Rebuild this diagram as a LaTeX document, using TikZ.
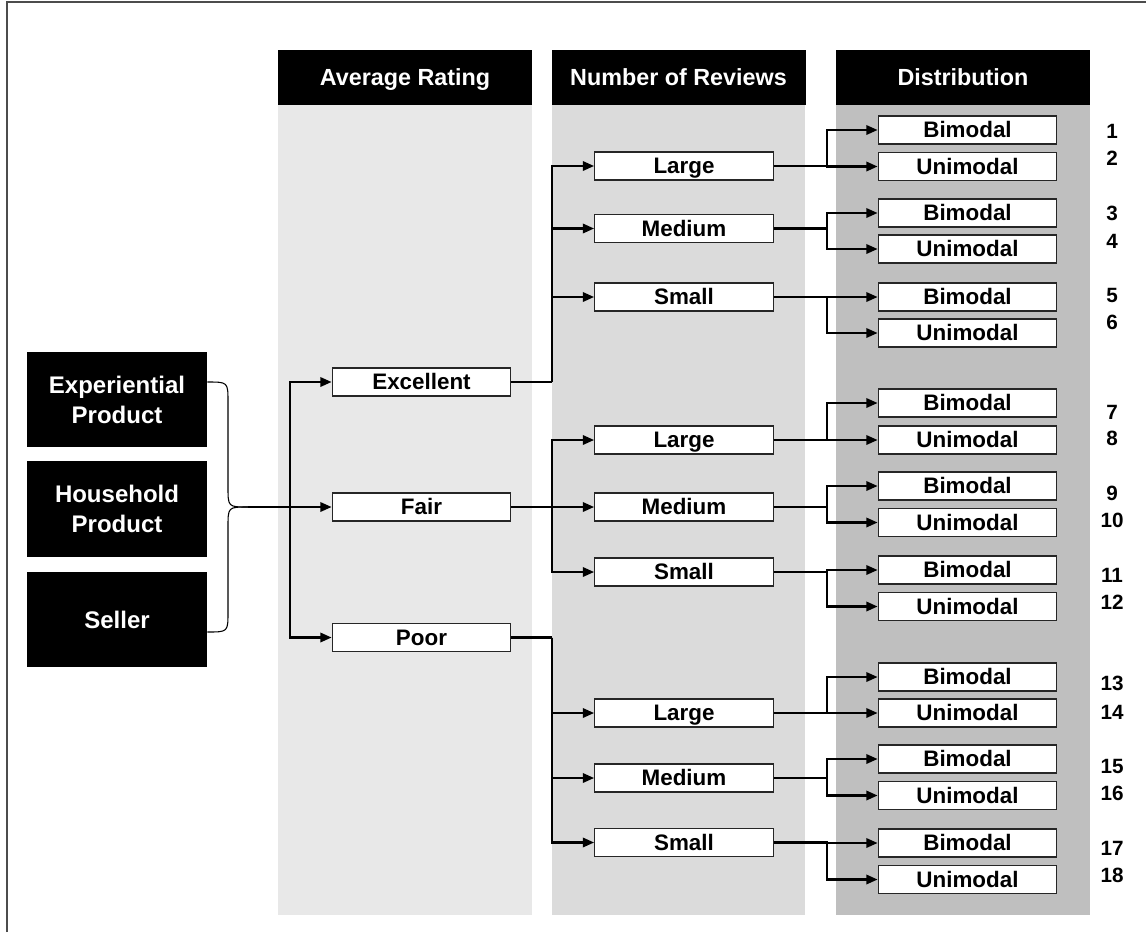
\documentclass[tikz,border=0pt]{standalone}
\usepackage{fontspec}
\setmainfont{Liberation Sans}
\usetikzlibrary{arrows.meta}
\begin{document}
\begin{tikzpicture}[x=0.75pt,y=-0.75pt,
  box/.style={draw=black!85,line width=0.8pt,fill=white,minimum width=134pt,minimum height=21pt,inner sep=0pt,text height=11.9pt,text depth=0pt,font=\fontsize{16.8}{18}\selectfont\bfseries},
  hdr/.style={fill=black,text=white,minimum width=190.5pt,minimum height=41.25pt,inner sep=0pt,text height=12.5pt,text depth=0pt,font=\fontsize{17.5}{20}\selectfont\bfseries},
  src/.style={fill=black,text=white,minimum width=135pt,minimum height=71.5pt,inner sep=0pt,align=center,font=\fontsize{18}{22.5}\selectfont\bfseries},
  conn/.style={line width=1.8pt,-{Triangle[length=8.5pt,width=7pt]}},
  link/.style={line width=1.8pt},
  brace/.style={line width=0.8pt},
  num/.style={text height=11.2pt,text depth=0pt,font=\fontsize{15.5}{18}\selectfont\bfseries},
  frame/.style={draw=black!70,line width=1pt}
]
\useasboundingbox (0,0) rectangle (1146,932);
% frame
\draw[frame] (7,932) -- (7,2) -- (1146,2);
% column backgrounds
\fill[black!9] (278,105) rectangle (532,915);
\fill[black!14] (552,105) rectangle (805,915);
\fill[black!25] (836,105) rectangle (1090,915);
% headers
\node[hdr] (h1) at (405,77.5) {Average Rating};
\node[hdr] (h2) at (678.5,77.5) {Number of Reviews};
\node[hdr] (h3) at (963,77.5) {Distribution};
% sources
\node[src] (exp) at (117,399.5) {Experiential\\Product};
\node[src] (hou) at (117,509) {Household\\Product};
\node[src] (sel) at (117,619.5) {Seller};
% level 1
\node[box] (exc) at (421.5,382) {Excellent};
\node[box] (fair) at (421.5,507) {Fair};
\node[box] (poor) at (421.5,637.5) {Poor};
% level 2
\node[box] (L1) at (684,166) {Large};
\node[box] (M1) at (684,228.5) {Medium};
\node[box] (S1) at (684,297) {Small};
\node[box] (L2) at (684,440) {Large};
\node[box] (M2) at (684,507) {Medium};
\node[box] (S2) at (684,572) {Small};
\node[box] (L3) at (684,713) {Large};
\node[box] (M3) at (684,778) {Medium};
\node[box] (S3) at (684,842.5) {Small};
% level 3
\node[box] (B1) at (967.5,130) {Bimodal};
\node[box] (U2) at (967.5,166.5) {Unimodal};
\node[box] (B3) at (967.5,213) {Bimodal};
\node[box] (U4) at (967.5,249) {Unimodal};
\node[box] (B5) at (967.5,297) {Bimodal};
\node[box] (U6) at (967.5,333) {Unimodal};
\node[box] (B7) at (967.5,403) {Bimodal};
\node[box] (U8) at (967.5,440) {Unimodal};
\node[box] (B9) at (967.5,486) {Bimodal};
\node[box] (U10) at (967.5,522.5) {Unimodal};
\node[box] (B11) at (967.5,570) {Bimodal};
\node[box] (U12) at (967.5,606.5) {Unimodal};
\node[box] (B13) at (967.5,677) {Bimodal};
\node[box] (U14) at (967.5,713) {Unimodal};
\node[box] (B15) at (967.5,759) {Bimodal};
\node[box] (U16) at (967.5,795.5) {Unimodal};
\node[box] (B17) at (967.5,843) {Bimodal};
\node[box] (U18) at (967.5,879.5) {Unimodal};
% numbers
\node[num] (n1) at (1112,131) {1};
\node[num] (n2) at (1112,158) {2};
\node[num] (n3) at (1112,213) {3};
\node[num] (n4) at (1112,241) {4};
\node[num] (n5) at (1112,295) {5};
\node[num] (n6) at (1112,322) {6};
\node[num] (n7) at (1112,412) {7};
\node[num] (n8) at (1112,438) {8};
\node[num] (n9) at (1112,493) {9};
\node[num] (n10) at (1112,520) {10};
\node[num] (n11) at (1112,575) {11};
\node[num] (n12) at (1112,602) {12};
\node[num] (n13) at (1112,683) {13};
\node[num] (n14) at (1112,712) {14};
\node[num] (n15) at (1112,766) {15};
\node[num] (n16) at (1112,793) {16};
\node[num] (n17) at (1112,848) {17};
\node[num] (n18) at (1112,875) {18};
% brace
\coordinate (bp) at (248,507);
\draw[brace] (exp.east |- 0,382) .. controls (228,382) .. (228,402) -- (228,487) .. controls (228,507) .. (bp);
\draw[brace] (sel.east |- 0,632) .. controls (228,632) .. (228,612) -- (228,527) .. controls (228,507) .. (bp);
% level 1 connectors
\coordinate (t1) at (290,507);
\draw[conn] (bp) -- (fair.west);
\draw[conn] (t1) |- (exc.west);
\draw[conn] (t1) |- (poor.west);
% level 2 connectors
\coordinate (e1) at (552,382);
\coordinate (e2) at (552,507);
\coordinate (e3) at (552,637.5);
\draw[link] (exc.east) -- (e1);
\draw[link] (fair.east) -- (e2);
\draw[link] (poor.east) -- (e3);
\foreach \s/\c in {e1/L1,e1/M1,e1/S1,e2/L2,e2/M2,e2/S2,e3/L3,e3/M3,e3/S3}
  \draw[conn] (\s) |- (\c.west);
% level 3 connectors
\foreach \p/\b/\u in {L1/B1/U2,M1/B3/U4,S1/B5/U6,L2/B7/U8,M2/B9/U10,S2/B11/U12,L3/B13/U14,M3/B15/U16,S3/B17/U18}{
  \draw[conn] (\p.east) -- ++(53,0) |- (\b.west);
  \draw[conn] (\p.east) -- ++(53,0) |- (\u.west);
}
\end{tikzpicture}
\end{document}
